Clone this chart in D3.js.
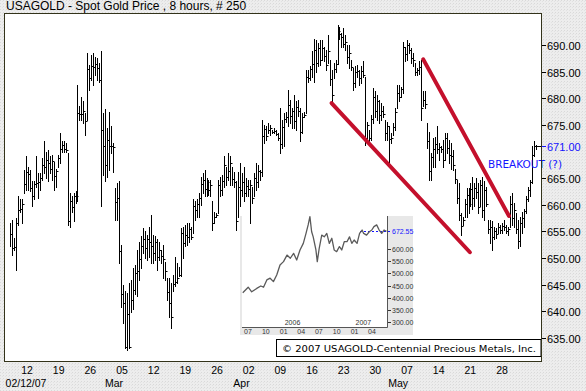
<!DOCTYPE html>
<html>
<head>
<meta charset="utf-8">
<script src="https://cdn.jsdelivr.net/npm/d3@7"></script>
<style>
  html, body { margin: 0; padding: 0; background: #ececec; }
  svg { display: block; font-family: "Liberation Sans", Arial, sans-serif; }
</style>
</head>
<body>
<svg id="chart" width="586" height="391"></svg>
<script>
// 8-hour bars (high / low / close)
const highs = [
  656.5, 657.2, 653.8, 657.5, 661.6, 661.0, 661.0, 666.5, 669.1, 667.1,
  666.5, 664.4, 664.4, 669.1, 665.9, 665.9, 668.8, 671.9, 670.0, 670.3,
  669.1, 669.4, 668.1, 666.8, 669.4, 673.4, 671.9, 671.9, 671.6, 669.7,
  662.2, 661.6, 662.2, 662.5, 682.5, 678.5, 680.3, 679.4, 677.2, 688.5,
  686.3, 688.1, 688.5, 687.8, 687.5, 686.6, 688.8, 677.2, 677.9, 674.4,
  677.5, 674.7, 671.6, 663.1, 664.1, 664.4, 652.5, 645.0, 643.8, 643.5,
  645.3, 645.9, 648.1, 648.7, 651.6, 653.1, 654.1, 655.6, 655.0, 654.4,
  655.9, 658.1, 654.4, 654.1, 653.5, 653.1, 651.6, 652.5, 649.3, 646.2,
  646.2, 645.3, 646.9, 650.3, 649.0, 648.4, 655.6, 655.9, 656.2, 656.5,
  656.5, 655.9, 661.0, 660.7, 661.0, 662.2, 665.3, 665.9, 666.5, 665.0,
  664.7, 664.7, 660.7, 658.7, 658.4, 664.7, 665.3, 665.6, 669.1, 667.1,
  669.7, 669.1, 667.1, 666.2, 664.4, 666.2, 667.8, 665.9, 667.1, 665.0,
  664.7, 664.7, 663.4, 665.9, 667.8, 667.5, 666.5, 675.9, 675.0, 674.7,
  675.3, 675.0, 674.0, 674.4, 674.0, 673.4, 678.2, 675.9, 677.2, 677.5,
  681.6, 679.7, 678.2, 680.6, 679.4, 679.7, 678.2, 677.2, 677.5, 685.3,
  685.3, 686.0, 688.8, 691.2, 690.9, 690.3, 690.9, 690.9, 689.7, 689.1,
  691.9, 687.2, 685.3, 686.6, 687.2, 693.7, 693.4, 692.2, 693.1, 691.9,
  690.0, 690.0, 687.2, 685.6, 686.0, 686.3, 685.3, 686.0, 686.9, 684.0,
  675.6, 674.0, 676.8, 681.9, 681.3, 680.6, 679.7, 679.1, 678.5, 675.9,
  675.6, 674.7, 673.4, 675.3, 678.2, 682.5, 682.5, 682.2, 690.6, 689.7,
  690.9, 690.3, 689.4, 688.5, 686.6, 685.6, 686.9, 687.2, 681.3, 681.3,
  675.3, 673.7, 669.7, 672.5, 672.8, 674.7, 671.6, 671.0, 672.2, 673.4,
  673.4, 672.2, 671.6, 670.3, 666.8, 664.7, 664.1, 658.4, 657.8, 661.0,
  663.1, 663.1, 664.1, 665.3, 664.1, 665.0, 664.1, 664.7, 665.3, 664.4,
  663.4, 657.2, 657.2, 656.9, 655.9, 655.6, 656.5, 656.2, 656.5, 657.2,
  656.2, 655.9, 661.6, 662.2, 660.4, 658.4, 657.2, 657.8, 658.7, 659.3,
  661.6, 663.4, 664.7, 671.0, 671.9, 671.3
];
const lows = [
  652.2, 650.6, 651.6, 647.8, 656.2, 658.7, 656.5, 662.2, 662.8, 662.8,
  662.5, 659.7, 661.0, 663.4, 661.3, 662.8, 664.7, 665.9, 665.0, 664.4,
  665.9, 664.7, 662.8, 663.4, 667.1, 667.8, 670.0, 670.0, 670.0, 656.2,
  655.9, 658.7, 656.9, 660.4, 660.7, 675.9, 675.9, 675.3, 673.1, 675.9,
  681.6, 683.4, 682.5, 684.3, 683.4, 683.1, 659.7, 665.6, 664.4, 665.3,
  666.5, 669.7, 666.2, 657.2, 657.2, 649.0, 640.9, 637.8, 633.1, 632.8,
  633.1, 639.8, 640.5, 643.2, 642.9, 645.9, 648.1, 651.0, 650.0, 649.6,
  650.3, 649.0, 649.0, 649.6, 647.8, 649.6, 649.0, 646.3, 645.9, 642.2,
  639.0, 636.9, 643.8, 644.7, 645.3, 646.6, 646.6, 650.0, 652.2, 652.5,
  653.1, 653.5, 654.7, 657.2, 657.8, 657.8, 660.0, 662.2, 661.6, 661.6,
  661.9, 661.6, 655.3, 656.5, 657.8, 658.4, 661.6, 661.9, 663.4, 663.8,
  664.7, 663.8, 663.8, 663.4, 655.3, 657.8, 659.7, 661.6, 660.7, 661.6,
  661.6, 656.5, 660.4, 661.6, 662.8, 663.4, 664.7, 665.5, 671.6, 672.2,
  673.4, 673.1, 673.4, 673.4, 673.1, 672.2, 669.7, 670.7, 671.0, 675.6,
  674.7, 675.3, 674.4, 674.4, 674.0, 676.6, 671.9, 673.4, 676.5, 677.2,
  683.1, 683.4, 684.0, 683.1, 685.0, 686.0, 686.3, 687.2, 686.9, 685.3,
  686.6, 682.5, 679.1, 683.8, 685.0, 686.5, 691.2, 689.7, 689.7, 689.1,
  686.6, 685.6, 685.3, 681.6, 682.2, 684.0, 682.5, 682.8, 684.0, 671.3,
  671.9, 671.3, 672.2, 675.3, 676.5, 675.9, 675.3, 675.9, 676.5, 672.2,
  672.2, 667.5, 671.6, 673.1, 674.0, 678.2, 679.4, 680.3, 681.0, 686.9,
  687.2, 688.5, 686.6, 686.0, 684.3, 684.3, 684.6, 675.9, 678.5, 678.2,
  670.7, 664.7, 664.7, 667.1, 667.1, 669.7, 668.5, 670.0, 667.1, 668.5,
  669.7, 667.8, 666.8, 666.5, 664.1, 660.4, 657.2, 654.4, 656.2, 657.8,
  657.8, 658.4, 659.7, 659.3, 659.7, 661.3, 658.4, 659.7, 657.8, 657.2,
  659.7, 654.7, 652.8, 651.6, 653.5, 653.8, 654.7, 654.7, 654.7, 655.3,
  654.7, 654.4, 655.9, 656.2, 655.9, 654.7, 651.9, 652.2, 654.7, 655.9,
  658.4, 660.7, 661.6, 664.1, 669.1, 670.5
];
const closes = [
  654.6, 651.9, 652.1, 656.6, 659.1, 659.3, 660.1, 663.9, 666.1, 665.7,
  663.2, 661.7, 663.9, 664.1, 664.3, 665.1, 667.4, 667.1, 668.4, 667.8,
  666.8, 668.2, 665.4, 666.3, 668.7, 670.4, 671.2, 670.4, 670.3, 657.0,
  660.7, 659.5, 661.7, 661.6, 677.2, 677.1, 677.0, 677.6, 675.8, 685.4,
  683.8, 686.1, 685.9, 686.4, 685.6, 683.5, 674.0, 671.0, 667.4, 672.1,
  671.0, 671.1, 670.9, 660.6, 661.2, 651.4, 643.2, 641.6, 633.4, 639.6,
  633.4, 642.1, 644.0, 647.2, 647.6, 649.9, 652.3, 653.6, 651.9, 653.5,
  653.0, 652.2, 650.9, 653.0, 650.3, 651.5, 650.4, 649.9, 647.5, 643.7,
  641.6, 639.0, 645.2, 645.6, 646.2, 646.8, 654.8, 652.9, 654.4, 654.0,
  655.4, 654.0, 659.7, 659.1, 660.1, 661.2, 664.0, 664.6, 663.0, 664.3,
  662.7, 663.8, 656.5, 657.7, 658.1, 663.8, 662.8, 664.5, 667.4, 665.3,
  666.3, 667.8, 664.8, 664.3, 657.0, 663.4, 662.7, 664.3, 662.2, 663.6,
  663.0, 663.8, 661.2, 665.1, 664.3, 666.3, 666.1, 673.0, 674.2, 672.9,
  674.0, 674.4, 673.7, 673.8, 673.3, 672.5, 671.5, 674.6, 676.1, 676.5,
  678.7, 676.6, 677.6, 675.8, 678.3, 677.6, 673.7, 676.5, 676.9, 684.0,
  683.8, 685.4, 686.5, 689.0, 686.7, 689.4, 687.1, 689.5, 687.9, 686.3,
  688.8, 683.6, 680.7, 685.5, 686.4, 692.6, 692.1, 691.5, 690.2, 690.5,
  687.7, 688.4, 685.9, 682.8, 684.9, 685.1, 683.8, 685.2, 684.4, 672.5,
  675.0, 672.5, 676.1, 680.2, 677.6, 679.5, 676.8, 677.6, 677.1, 673.5,
  674.8, 672.3, 672.5, 674.6, 677.5, 681.0, 680.2, 681.8, 689.6, 688.3,
  690.0, 689.0, 687.5, 687.1, 684.9, 685.3, 685.9, 678.2, 679.7, 678.9,
  672.0, 666.3, 668.9, 670.4, 671.5, 670.4, 670.9, 670.4, 668.4, 672.5,
  670.6, 669.4, 669.2, 667.4, 664.8, 661.2, 658.1, 656.0, 657.1, 660.1,
  661.8, 660.1, 663.0, 661.2, 663.2, 662.4, 659.6, 663.7, 659.1, 662.7,
  660.1, 655.5, 655.8, 654.0, 655.0, 654.6, 655.9, 655.2, 656.0, 655.8,
  655.0, 655.5, 660.1, 657.6, 659.1, 655.5, 653.2, 656.5, 657.6, 658.9,
  661.0, 662.7, 664.3, 669.4, 671.0, 671.0
];
const lastPrice = 671.00;
const priceTicks = [690, 685, 680, 675, 665, 660, 655, 650, 645, 640, 635];

// week ticks (Mondays) and month labels
const firstWeek = "2007-02-12";
const lastWeek = "2007-05-28";
const monthLabels = [
  { text: "02/12/07", date: "2007-02-12", first: true },
  { text: "Mar", date: "2007-03-05" },
  { text: "Apr", date: "2007-04-02" },
  { text: "May", date: "2007-05-07" }
];

// channel lines: [bar index, price]
const channelLines = [
  [[162, 679.1], [231.7, 651.1]],
  [[208.2, 687.3], [251.4, 657.9]]
];

// inset: two-year gold price
const insetDates = [
  "2005-06-04", "2005-07-02", "2005-07-20", "2005-08-15", "2005-09-05", "2005-09-19",
  "2005-10-06", "2005-10-23", "2005-11-09", "2005-11-26", "2005-12-13", "2005-12-31",
  "2006-01-18", "2006-02-04", "2006-02-21", "2006-03-09", "2006-03-26", "2006-04-12",
  "2006-04-26", "2006-05-07", "2006-05-16", "2006-05-25", "2006-06-02", "2006-06-16",
  "2006-06-23", "2006-07-03", "2006-07-16", "2006-07-29", "2006-08-11", "2006-08-24",
  "2006-09-06", "2006-09-18", "2006-10-01", "2006-10-15", "2006-10-27", "2006-11-09",
  "2006-11-23", "2006-12-06", "2006-12-18", "2006-12-30", "2007-01-14", "2007-01-27",
  "2007-02-09", "2007-02-17", "2007-03-04", "2007-03-18", "2007-03-31", "2007-04-11",
  "2007-04-25", "2007-05-08", "2007-05-21", "2007-06-02", "2007-06-15"
];
const insetPrices = [
  420, 443, 424, 438, 448, 443,
  473, 480, 466, 493, 534, 548,
  575, 562, 582, 555, 596, 623,
  664, 699, 733, 671, 650, 596,
  548, 603, 657, 650, 664, 623,
  644, 596, 589, 610, 596, 630,
  630, 650, 623, 637, 623, 664,
  678, 664, 657, 671, 678, 692,
  699, 678, 664, 678, 673
];
const insetTicks = [600, 550, 500, 450, 400, 350, 300];
const insetLast = 672.55;
const insetYears = ["2006", "2007"];

(function () {
  const svg = d3.select("#chart");
  const blue = "#1414ff";
  const frameColor = "#33331a";

  // dotted grey background
  const defs = svg.append("defs");
  const pat = defs.append("pattern").attr("id", "dots")
    .attr("width", 3).attr("height", 3).attr("patternUnits", "userSpaceOnUse");
  pat.append("rect").attr("width", 3).attr("height", 3).attr("fill", "#ededed");
  pat.append("rect").attr("width", 1).attr("height", 1).attr("fill", "#d9d9d9");
  pat.append("rect").attr("x", 2).attr("y", 1).attr("width", 1).attr("height", 1).attr("fill", "#e2e2e2");
  svg.append("rect").attr("width", 586).attr("height", 391).attr("fill", "url(#dots)");

  svg.append("text").attr("x", 6).attr("y", 10)
    .attr("font-size", 12).attr("fill", "#000")
    .text("USAGOLD - Spot Gold Price , 8 hours, # 250");

  // plot area
  const pLeft = 4, pRight = 541, pTop = 13, pBottom = 362;
  svg.append("rect").attr("x", pLeft + 0.5).attr("y", pTop + 0.5)
    .attr("width", pRight - pLeft).attr("height", pBottom - pTop - 1)
    .attr("fill", "#fff").attr("stroke", frameColor).attr("stroke-width", 1);

  const x = d3.scaleLinear().domain([0, highs.length - 1]).range([10, 536]);
  const y = d3.scaleLinear().domain([630.5, 696]).range([pBottom, pTop]);

  // price axis on the right
  const yAxis = svg.append("g").attr("font-size", 11);
  priceTicks.forEach(v => {
    const py = Math.round(y(v)) + 0.5;
    yAxis.append("line").attr("x1", pRight + 1).attr("x2", pRight + 5)
      .attr("y1", py).attr("y2", py).attr("stroke", "#000");
    yAxis.append("text").attr("x", pRight + 6).attr("y", py + 4)
      .attr("fill", "#000").text(v.toFixed(2));
  });
  const lastY = Math.round(y(lastPrice)) + 0.5;
  yAxis.append("line").attr("x1", pRight + 1).attr("x2", pRight + 5)
    .attr("y1", lastY).attr("y2", lastY).attr("stroke", blue);
  yAxis.append("text").attr("x", pRight + 6).attr("y", lastY + 4)
    .attr("fill", blue).text(lastPrice.toFixed(2));

  // date axis
  const xDate = d3.scaleUtc()
    .domain([new Date(firstWeek), new Date(lastWeek)]).range([27, 502]);
  const weeks = d3.utcMonday.range(new Date(firstWeek), d3.utcDay.offset(new Date(lastWeek), 1));
  svg.append("g").attr("font-size", 10.5).selectAll("text")
    .data(weeks).join("text")
    .attr("x", d => xDate(d)).attr("y", 374)
    .attr("text-anchor", "middle").attr("fill", "#000")
    .text(d3.utcFormat("%d"));
  svg.append("g").attr("font-size", 10.5).selectAll("text")
    .data(monthLabels).join("text")
    .attr("x", d => d.first ? xDate(new Date(d.date)) - 1 : xDate(new Date(d.date)) + 1)
    .attr("y", 387)
    .attr("text-anchor", d => d.first ? "middle" : "end")
    .attr("fill", "#000")
    .text(d => d.text);

  // inset chart
  const inL = 242, inR = 387, inT = 216, inB = 327;
  svg.append("rect").attr("x", 240).attr("y", inT).attr("width", 173).attr("height", 119)
    .attr("fill", "#e8e8e8");
  svg.append("rect").attr("x", inL).attr("y", inT).attr("width", inR - inL).attr("height", inB - inT)
    .attr("fill", "#fff");
  const xi = d3.scaleUtc().domain([new Date("2005-07-01"), new Date("2007-04-01")]).range([248, 372]);
  const yi = d3.scaleLinear().domain([300, 600]).range([322, 249]);
  const inset = svg.append("g").attr("font-size", 7).attr("fill", "#333");
  inset.append("line").attr("x1", inL).attr("x2", inR + 0.5).attr("y1", inB + 0.5).attr("y2", inB + 0.5)
    .attr("stroke", "#555");
  inset.append("line").attr("x1", inR + 0.5).attr("x2", inR + 0.5).attr("y1", inT).attr("y2", inB + 0.5)
    .attr("stroke", "#555");
  insetTicks.forEach(v => {
    const py = Math.round(yi(v)) + 0.5;
    inset.append("line").attr("x1", inR + 1).attr("x2", inR + 4).attr("y1", py).attr("y2", py).attr("stroke", "#333");
    inset.append("text").attr("x", inR + 5).attr("y", py + 2.5).text(v.toFixed(2));
  });
  const insetLastY = Math.round(yi(insetLast)) + 0.5;
  inset.append("line").attr("x1", 360).attr("x2", inR + 4).attr("y1", insetLastY).attr("y2", insetLastY)
    .attr("stroke", blue).attr("stroke-dasharray", "2,2");
  inset.append("text").attr("x", inR + 5).attr("y", insetLastY + 2.5).attr("fill", blue)
    .text(insetLast.toFixed(2));
  const quarters = d3.utcMonth.every(3).range(new Date("2005-07-01"), new Date("2007-04-02"));
  inset.selectAll("text.q").data(quarters).join("text").attr("class", "q")
    .attr("x", d => xi(d)).attr("y", 334).attr("text-anchor", "middle")
    .text(d3.utcFormat("%m"));
  inset.selectAll("text.yr").data(insetYears).join("text").attr("class", "yr")
    .attr("x", d => xi(new Date(d + "-01-01")) + 1).attr("y", 325)
    .text(d => d);
  const insetLine = d3.line()
    .x((d, i) => xi(new Date(insetDates[i])))
    .y(d => yi(d));
  inset.append("path").datum(insetPrices).attr("d", insetLine)
    .attr("fill", "none").attr("stroke", "#5a5a5a").attr("stroke-width", 1.3)
    .attr("stroke-linejoin", "round");

  // copyright box
  svg.append("rect").attr("x", 276.5).attr("y", 339.5).attr("width", pRight - 276.5).attr("height", 17)
    .attr("fill", "#fff").attr("stroke", "#000");
  svg.append("text").attr("x", 282).attr("y", 352)
    .attr("font-family", "'DejaVu Sans', Verdana, sans-serif").attr("font-size", 9.3)
    .attr("textLength", 254).attr("lengthAdjust", "spacingAndGlyphs")
    .attr("fill", "#000")
    .text("\u00A9 2007 USAGOLD-Centennial Precious Metals, Inc.");

  // bars
  const barPath = highs.map((h, i) => {
    const bx = Math.round(x(i)) + 0.5;
    const cy = Math.round(y(closes[i])) + 0.5;
    return `M${bx},${Math.round(y(h))}V${Math.round(y(lows[i])) + 1}M${bx},${cy}H${bx + 2}`;
  }).join("");
  svg.append("path").attr("d", barPath).attr("fill", "none")
    .attr("stroke", "#000").attr("stroke-width", 1);

  // close marker to the axis
  const lastX = Math.round(x(highs.length - 1)) + 0.5;
  svg.append("line").attr("x1", lastX).attr("x2", pRight).attr("y1", lastY).attr("y2", lastY)
    .attr("stroke", "#000");

  // channel lines
  svg.append("g").selectAll("line").data(channelLines).join("line")
    .attr("x1", d => x(d[0][0])).attr("y1", d => y(d[0][1]))
    .attr("x2", d => x(d[1][0])).attr("y2", d => y(d[1][1]))
    .attr("stroke", "#c4102c").attr("stroke-width", 4).attr("stroke-linecap", "round");

  svg.append("text").attr("x", 488).attr("y", 168)
    .attr("font-family", "'DejaVu Sans', Verdana, sans-serif").attr("font-size", 10.5)
    .attr("textLength", 74).attr("lengthAdjust", "spacingAndGlyphs")
    .attr("fill", blue).text("BREAKOUT (?)");

  // redraw the right frame line over the plot
  svg.append("line").attr("x1", pRight + 0.5).attr("x2", pRight + 0.5).attr("y1", pTop).attr("y2", pBottom)
    .attr("stroke", frameColor);
})();
</script>
</body>
</html>
